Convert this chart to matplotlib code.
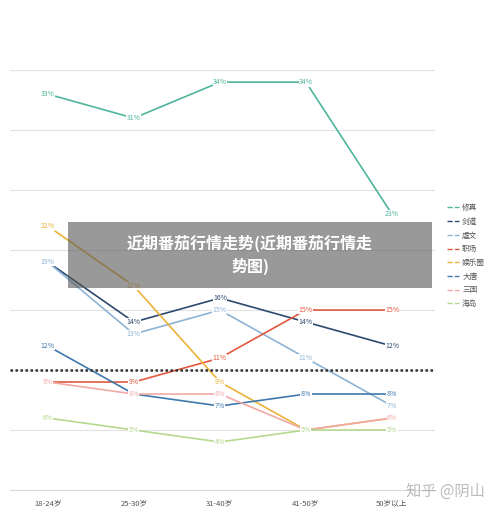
import matplotlib.pyplot as plt
from matplotlib.lines import Line2D

plt.rcParams['font.family'] = ['Noto Sans CJK SC', 'DejaVu Sans']

# categories and series (%)
ages = ["18-24岁", "25-30岁", "31-40岁", "41-50岁", "50岁以上"]
names = ["修真", "剑道", "虐文", "职场", "娱乐圈", "大唐", "三国", "海岛"]
xiuzhen = [33, 31, 34, 34, 23]
jiandao = [19, 14, 16, 14, 12]
nuewen = [19, 13, 15, 11, 7]
zhichang = [9, 9, 11, 15, 15]
yule = [22, 17, 9, 5, 6]
datang = [12, 8, 7, 8, 8]
sanguo = [9, 8, 8, 5, 6]
haidao = [6, 5, 4, 5, 5]
series = [xiuzhen, jiandao, nuewen, zhichang, yule, datang, sanguo, haidao]
colors = ["#4fb59c", "#2d4a6e", "#8db4d6", "#e0593e", "#ebb339",
          "#3f79ad", "#f0a9a5", "#b5d98f"]

fig = plt.figure(figsize=(5, 5.12), dpi=100)
ax = fig.add_axes([0.02, 0.043, 0.85, 0.82])
x = range(len(ages))
for vals, c in zip(series, colors):
    ax.plot(x, vals, color=c, lw=1.2)
    for xi, v in zip(x, vals):
        ax.text(xi, v, f"{v}%", color=c, fontsize=5, ha="center", va="center",
                bbox=dict(facecolor="white", edgecolor="none", pad=0.3))

ax.axhline(10, color="#333333", ls=(0, (1, 1)), lw=1.8)
ax.set_ylim(0, 35)
ax.set_xlim(-0.44, 4.5)
ax.set_yticks(range(5, 36, 5))
ax.yaxis.grid(True, color="#e2e2e2", lw=0.8)
ax.set_axisbelow(True)
ax.tick_params(left=False, labelleft=False, bottom=False)
ax.set_xticks(list(x))
ax.set_xticklabels(ages, fontsize=5.5, color="#555555")
for s in ["top", "right", "left"]:
    ax.spines[s].set_visible(False)
ax.spines["bottom"].set_color("#d9d9d9")

handles = [Line2D([], [], color=c, ls="--", lw=1) for c in colors]
fig.legend(handles, names, loc="upper left", bbox_to_anchor=(0.88, 0.615),
           frameon=False, fontsize=5.5, handlelength=1.6, labelspacing=0.75,
           handletextpad=0.4, labelcolor="#555555")

# overlay title box
fig.patches.append(plt.Rectangle((0.136, 0.437), 0.728, 0.129, transform=fig.transFigure,
                                 facecolor="#555555", alpha=0.6, edgecolor="none"))
fig.text(0.5, 0.502, "近期番茄行情走势(近期番茄行情走\n势图)", color="white", fontsize=11.5,
         fontweight="bold", ha="center", va="center", linespacing=1.4)
fig.text(0.97, 0.04, "知乎 @阴山", color="#aaaaaa", fontsize=11, ha="right", va="center", alpha=0.8)

fig.savefig("out.png")
